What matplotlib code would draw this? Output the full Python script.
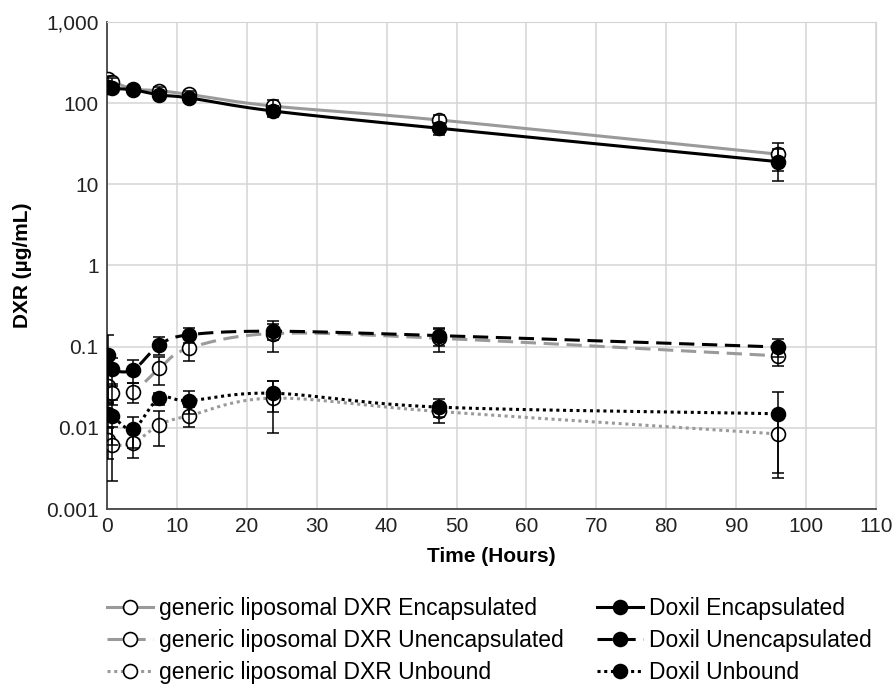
import matplotlib.pyplot as plt
import numpy as np
from matplotlib.lines import Line2D
from matplotlib.ticker import FixedLocator, FixedFormatter, NullLocator

plt.rcParams['font.family'] = ['Liberation Sans', 'DejaVu Sans']

hours = [0.083, 0.75, 3.75, 7.5, 11.75, 23.75, 47.5, 96]

gen_encap = [197, 184, 150, 142, 128, 92, 62, 23.5]
gen_encap_err = [20, 18, 14, 14, 12, 16, 10, 9]
gen_unencap = [0.033, 0.027, 0.028, 0.054, 0.096, 0.145, 0.127, 0.077]
gen_unencap_err = [0.012, 0.008, 0.008, 0.02, 0.03, 0.06, 0.04, 0.02]
gen_unbound = [0.0071, 0.0062, 0.0065, 0.0109, 0.0141, 0.0232, 0.0159, 0.0084]
gen_unbound_err = [0.003, 0.004, 0.0022, 0.005, 0.004, 0.0145, 0.0045, 0.0056]

dox_encap = [160, 152, 146, 126, 116, 80, 49, 19]
dox_encap_err = [20, 16, 14, 12, 10, 12, 8, 8]
dox_unencap = [0.08, 0.053, 0.052, 0.105, 0.14, 0.155, 0.137, 0.099]
dox_unencap_err = [0.06, 0.02, 0.016, 0.025, 0.03, 0.035, 0.035, 0.025]
dox_unbound = [0.0149, 0.0141, 0.0097, 0.0232, 0.0217, 0.0267, 0.018, 0.0149]
dox_unbound_err = [0.005, 0.008, 0.004, 0.004, 0.007, 0.011, 0.0045, 0.0125]

gen_labels = ['generic liposomal DXR Encapsulated',
              'generic liposomal DXR Unencapsulated',
              'generic liposomal DXR Unbound']
dox_labels = ['Doxil Encapsulated', 'Doxil Unencapsulated', 'Doxil Unbound']

GRAY = '#9a9a9a'


def smooth(x, y, n=24):
    # catmull-rom through the points in (x, log y) space, like excel's smoothed lines
    px = np.array(x, dtype=float)
    py = np.log10(np.array(y, dtype=float))
    px = np.concatenate([[2 * px[0] - px[1]], px, [2 * px[-1] - px[-2]]])
    py = np.concatenate([[2 * py[0] - py[1]], py, [2 * py[-1] - py[-2]]])
    xs, ys = [], []
    s = np.linspace(0, 1, n)
    for i in range(1, len(px) - 2):
        for arr, out in ((px, xs), (py, ys)):
            p0, p1, p2, p3 = arr[i - 1], arr[i], arr[i + 1], arr[i + 2]
            m1 = (p2 - p0) / 2
            m2 = (p3 - p1) / 2
            h00 = 2 * s**3 - 3 * s**2 + 1
            h10 = s**3 - 2 * s**2 + s
            h01 = -2 * s**3 + 3 * s**2
            h11 = s**3 - s**2
            out.extend(h00 * p1 + h10 * m1 + h01 * p2 + h11 * m2)
    return np.array(xs), 10 ** np.array(ys)


fig = plt.figure(figsize=(8.93, 6.86), dpi=100)
ax = fig.add_axes([0.1198, 0.258, 0.8612, 0.710])

DASH = (0, (5, 2.5))
DOT = (0, (1, 1.2))
gen_series = [
    (gen_encap, gen_encap_err, '-'),
    (gen_unencap, gen_unencap_err, DASH),
    (gen_unbound, gen_unbound_err, DOT),
]
dox_series = [
    (dox_encap, dox_encap_err, '-'),
    (dox_unencap, dox_unencap_err, DASH),
    (dox_unbound, dox_unbound_err, DOT),
]

for group, col, face in [(gen_series, GRAY, 'white'), (dox_series, 'black', 'black')]:
    for vals, err, ls in group:
        sx, sy = smooth(hours, vals)
        ax.plot(sx, sy, color=col, ls=ls, lw=2.2, zorder=3)
        ax.plot(hours, vals, ls='none', marker='o', ms=10, mfc=face, mec='black', mew=1.2, zorder=4)
        ax.errorbar(hours, vals, yerr=err, fmt='none', ecolor='black', elinewidth=1.1,
                    capsize=4.5, capthick=1.1, zorder=5)

ax.set_yscale('log')
ax.set_ylim(0.001, 1000)
ax.set_xlim(0, 110)
ax.set_xticks(range(0, 111, 10))
ax.yaxis.set_major_locator(FixedLocator([0.001, 0.01, 0.1, 1, 10, 100, 1000]))
ax.yaxis.set_major_formatter(FixedFormatter(['0.001', '0.01', '0.1', '1', '10', '100', '1,000']))
ax.yaxis.set_minor_locator(NullLocator())
ax.grid(True, color='#d4d4d4', lw=1.1, zorder=0)
ax.set_axisbelow(True)
ax.tick_params(length=0, labelsize=15, colors='#222222', pad=6)
for side in ['top', 'right']:
    ax.spines[side].set_color('#d4d4d4')
for side in ['left', 'bottom']:
    ax.spines[side].set_color('#444444')
    ax.spines[side].set_linewidth(1.3)

ax.set_xlabel('Time (Hours)', fontsize=15, fontweight='bold', labelpad=8)
ax.set_ylabel('DXR (µg/mL)', fontsize=15, fontweight='bold', labelpad=10)

# legend: two separate columns under the plot
for group, col, face, labels, x0 in [(gen_series, GRAY, 'white', gen_labels, 0.1198),
                                      (dox_series, 'black', 'black', dox_labels, 0.6685)]:
    handles = [Line2D([], [], color=col, ls=ls, lw=2.2, marker='o', ms=10,
                      mfc=face, mec='black', mew=1.2) for _, _, ls in group]
    fig.legend(handles, labels, loc='upper left', bbox_to_anchor=(x0, 0.1295),
               frameon=False, fontsize=16.5, handlelength=2.0, borderpad=0,
               borderaxespad=0, labelspacing=0.39, handletextpad=0.25, numpoints=1)

plt.savefig('out.png', dpi=100)
